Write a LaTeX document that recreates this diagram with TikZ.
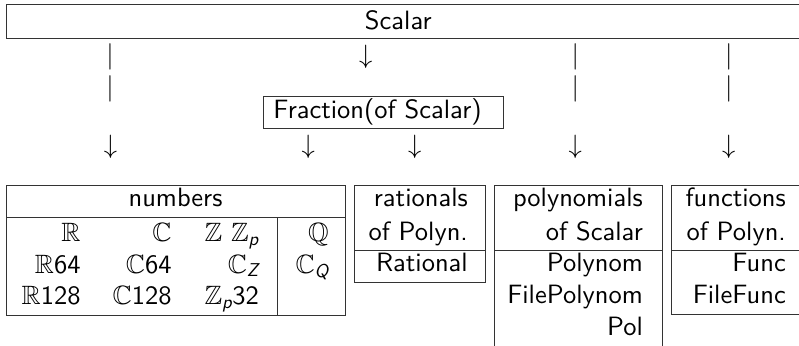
\documentclass[tikz,border=0pt]{standalone}
\usepackage{fix-cm}
\usepackage{amsmath,amssymb}
\usepackage{fontspec}
\setsansfont{lmsans10-regular.otf}[ItalicFont=lmsans10-oblique.otf]
% sans italic subscript
\newcommand{\ssub}[1]{_{\textsf{\itshape #1}}}
\begin{document}
\begin{tikzpicture}[x=1pt,y=-1pt,
  lbl/.style={font=\sffamily\fontsize{26.5}{32}\selectfont, inner sep=0pt, text=black},
  cell/.style={lbl, anchor=base east},
  mid/.style={lbl, anchor=base},
  glyph/.style={lbl, anchor=center},
  frame/.style={draw=black!80, line width=1pt}]
\useasboundingbox (0,0) rectangle (799,345);
\clip (0,0) rectangle (799,345);

% top level
\draw[frame] (6,5) rectangle (806,38.3);
\node[mid] (scalar) at (398.3,30) {Scalar};

% second level
\draw[frame] (263,96) rectangle (503.7,128.3);
\node[mid] (fraction) at (377.5,118) {Fraction(of Scalar)};

% bars and arrows between the levels
\foreach \x/\n in {110/a, 575.3/b, 728.7/c} {
  \node[glyph] (bar\n1) at (\x,56.5) {$|$};
  \node[glyph] (bar\n2) at (\x,89) {$|$};
}
\node[glyph] (arrFrac) at (365.7,57) {$\downarrow$};
\foreach \x/\n in {110.5/num, 308.3/fnum, 414.7/rat, 575.3/pol, 728.7/fun}
  \node[glyph] (arr\n) at (\x,146.5) {$\downarrow$};

% numbers
\draw[frame] (6,185) rectangle (345.3,315);
\draw[frame] (6,217.7) -- (345.3,217.7);
\draw[frame] (277,217.7) -- (277,315);
\node[mid] (numbers) at (175.5,206.7) {numbers};
\node[cell] (r1) at (80.7,241.5) {$\mathbb{R}$};
\node[cell] (c1) at (171.7,241.5) {$\mathbb{C}$};
\node[cell] (z1) at (259,241.5) {$\mathbb{Z}$ $\mathbb{Z}\ssub{p}$};
\node[cell] (q1) at (329,241.5) {$\mathbb{Q}$};
\node[cell] (r2) at (80.7,273) {$\mathbb{R}$64};
\node[cell] (c2) at (171.7,273) {$\mathbb{C}$64};
\node[cell] (z2) at (259,273) {$\mathbb{C}\ssub{Z}$};
\node[cell] (q2) at (329,273) {$\mathbb{C}\ssub{Q}$};
\node[cell] (r3) at (80.7,304.5) {$\mathbb{R}$128};
\node[cell] (c3) at (171.7,304.5) {$\mathbb{C}$128};
\node[cell] (z3) at (259,304.5) {$\mathbb{Z}\ssub{p}$32};

% rationals
\draw[frame] (354,185) rectangle (485.7,282.7);
\draw[frame] (354,250) -- (485.7,250);
\node[cell] (rat1) at (468,206.7) {rationals};
\node[cell] (rat2) at (468,240) {of Polyn.};
\node[cell] (rat3) at (468,271.7) {Rational};

% polynomials
\draw[frame] (494.7,350) -- (494.7,185) -- (662.3,185) -- (662.3,350);
\draw[frame] (494.7,250) -- (662.3,250);
\node[cell] (pol1) at (643,206.7) {polynomials};
\node[cell] (pol2) at (643,240) {of Scalar};
\node[cell] (pol3) at (643,271.7) {Polynom};
\node[cell] (pol4) at (643,303.3) {FilePolynom};
\node[cell] (pol5) at (643,335) {Pol};

% functions
\draw[frame] (671,185) rectangle (806,314.3);
\draw[frame] (671,250) -- (806,250);
\node[cell] (fun1) at (786,206.7) {functions};
\node[cell] (fun2) at (786,240) {of Polyn.};
\node[cell] (fun3) at (786,271.7) {Func};
\node[cell] (fun4) at (786,303.3) {FileFunc};
\end{tikzpicture}
\end{document}
